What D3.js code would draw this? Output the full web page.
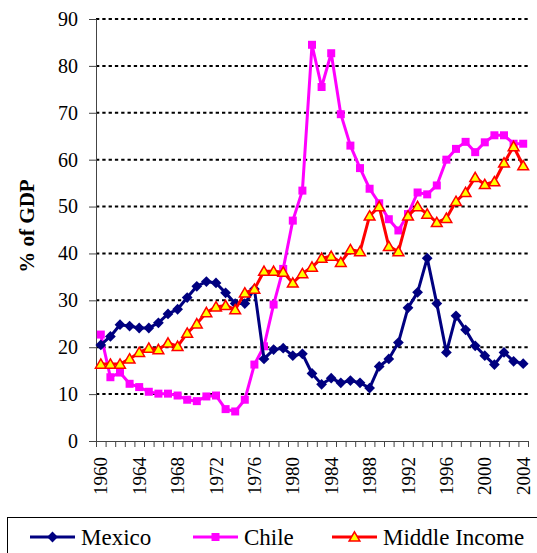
<!DOCTYPE html>
<html>
<head>
<meta charset="utf-8">
<script src="https://cdn.jsdelivr.net/npm/d3@7"></script>
<style>
  body { margin: 0; background: #fff; }
  svg text { font-family: "Liberation Serif", Tinos, "Times New Roman", "DejaVu Serif", serif !important; }
</style>
</head>
<body>
<svg id="chart" width="537" height="553"></svg>
<script>
// data, % of GDP
const years = d3.range(1960, 2005);
const yTicks = [0, 10, 20, 30, 40, 50, 60, 70, 80, 90];
const yearLabels = [1960, 1964, 1968, 1972, 1976, 1980, 1984, 1988, 1992, 1996, 2000, 2004];

const mexico = [20.5, 22.3, 24.8, 24.5, 24.1, 24.1, 25.2, 27.1, 28.1, 30.6,
  33.0, 34.0, 33.7, 31.6, 29.3, 29.3, 32.4, 17.5, 19.5, 19.8,
  18.2, 18.6, 14.4, 12.1, 13.4, 12.4, 12.9, 12.4, 11.3, 15.9,
  17.5, 21.0, 28.4, 31.7, 39.0, 29.3, 18.9, 26.7, 23.7, 20.3,
  18.2, 16.3, 18.9, 17.0, 16.5];

const chile = [22.7, 13.6, 14.6, 12.2, 11.5, 10.5, 10.1, 10.1, 9.7, 8.8,
  8.5, 9.5, 9.7, 6.8, 6.3, 8.8, 16.3, 20.2, 29.1, 36.7,
  47.0, 53.4, 84.5, 75.5, 82.7, 69.7, 63.0, 58.2, 53.8, 50.7,
  47.3, 44.9, 48.4, 53.0, 52.6, 54.5, 60.0, 62.3, 63.8, 61.6,
  63.7, 65.2, 65.2, 63.4, 63.4];

const middleIncome = [16.4, 16.4, 16.4, 17.5, 18.9, 19.8, 19.5, 20.9, 20.2, 23.0,
  25.0, 27.4, 28.6, 28.9, 28.0, 31.6, 32.4, 36.2, 36.2, 36.0,
  33.7, 35.7, 37.1, 39.0, 39.4, 38.1, 40.8, 40.4, 48.0, 50.0,
  41.5, 40.4, 48.0, 50.0, 48.4, 46.6, 47.5, 51.1, 53.0, 56.2,
  54.7, 55.3, 59.3, 62.8, 58.7];

const FONT = "'Liberation Serif', Tinos, 'Times New Roman', 'DejaVu Serif', serif";
const svg = d3.select("#chart");

const x = d3.scaleBand().domain(years).range([96, 528]);
const xEdge = d3.scaleLinear().domain([1960, 2005]).range([96, 528]);
const y = d3.scaleLinear().domain([0, 90]).range([441, 19]);

// dotted gridlines
svg.append("g")
  .selectAll("line")
  .data(yTicks.filter(d => d > 0))
  .join("line")
  .attr("x1", 96).attr("x2", 528)
  .attr("y1", d => y(d)).attr("y2", d => y(d))
  .attr("stroke", "#000")
  .attr("stroke-width", 2)
  .attr("stroke-dasharray", "3.3,3");

// y axis
const yAxis = svg.append("g")
  .attr("transform", "translate(96,0)")
  .call(d3.axisLeft(y).tickValues(yTicks).tickSize(7).tickPadding(11))
  .attr("font-family", FONT);
yAxis.selectAll("text").attr("font-size", 20).attr("fill", "#000");
yAxis.selectAll("line, path").attr("stroke", "#444");

// x axis, one tick per year boundary
const xAxis = svg.append("g")
  .attr("transform", "translate(0,441)")
  .call(d3.axisBottom(xEdge).tickValues(d3.range(1960, 2006)).tickFormat("").tickSize(6));
xAxis.selectAll("line, path").attr("stroke", "#444");

svg.append("g")
  .selectAll("text")
  .data(yearLabels)
  .join("text")
  .attr("transform", d => `translate(${x(d) + x.bandwidth() / 2},457) rotate(-90)`)
  .attr("text-anchor", "end")
  .attr("dy", "0.35em")
  .attr("font-family", FONT)
  .attr("font-size", 19)
  .text(d => d);

// y title
svg.append("text")
  .attr("transform", "translate(27,226) rotate(-90)")
  .attr("text-anchor", "middle")
  .attr("dy", "0.35em")
  .attr("font-family", FONT)
  .attr("font-size", 21)
  .attr("font-weight", "bold")
  .text("% of GDP");

const cx = d => x(d) + x.bandwidth() / 2;
const line = d3.line().x(d => cx(d.year)).y(d => y(d.v));

// excel-like markers: square turned 45deg for the diamond
const diamond = d3.symbol().type(d3.symbolSquare).size(58);
const square = d3.symbol().type(d3.symbolSquare).size(64);
const triangle = d3.symbol().type(d3.symbolTriangle).size(50);

const series = [
  { name: "Chile", values: chile, color: "#ff00ff", sym: square, rot: 0, dy: 0, fill: "#ff00ff", stroke: "none" },
  { name: "Mexico", values: mexico, color: "#000080", sym: diamond, rot: 45, dy: 0, fill: "#000080", stroke: "none" },
  { name: "Middle Income", values: middleIncome, color: "#ff0000", sym: triangle, rot: 0, dy: 1, fill: "#ffff00", stroke: "#ff0000" }
];

series.forEach(s => {
  const pts = years.map((yr, i) => ({ year: yr, v: s.values[i] }));
  const g = svg.append("g");
  g.append("path")
    .datum(pts)
    .attr("d", line)
    .attr("fill", "none")
    .attr("stroke", s.color)
    .attr("stroke-width", 3)
    .attr("stroke-linejoin", "round");
  g.selectAll("path.m")
    .data(pts)
    .join("path")
    .attr("class", "m")
    .attr("d", s.sym)
    .attr("transform", d => `translate(${cx(d.year)},${y(d.v) + s.dy}) rotate(${s.rot})`)
    .attr("fill", s.fill)
    .attr("stroke", s.stroke)
    .attr("stroke-width", 1.5);
});

// legend box, runs off the page edge like the original
svg.append("rect")
  .attr("x", 7.5).attr("y", 517.5)
  .attr("width", 560).attr("height", 60)
  .attr("fill", "none")
  .attr("stroke", "#000");

const legendItems = [
  { name: "Mexico", x0: 30, s: series[1] },
  { name: "Chile", x0: 193, s: series[0] },
  { name: "Middle Income", x0: 332, s: series[2] }
];

legendItems.forEach(d => {
  const g = svg.append("g");
  g.append("line")
    .attr("x1", d.x0).attr("x2", d.x0 + 45)
    .attr("y1", 537).attr("y2", 537)
    .attr("stroke", d.s.color).attr("stroke-width", 3);
  g.append("path")
    .attr("d", d.s.sym)
    .attr("transform", `translate(${d.x0 + 22.5},${537 + d.s.dy}) rotate(${d.s.rot})`)
    .attr("fill", d.s.fill).attr("stroke", d.s.stroke).attr("stroke-width", 1.5);
  g.append("text")
    .attr("x", d.x0 + 51).attr("y", 545)
    .attr("font-family", FONT)
    .attr("font-size", 23)
    .text(d.name);
});
</script>
</body>
</html>
